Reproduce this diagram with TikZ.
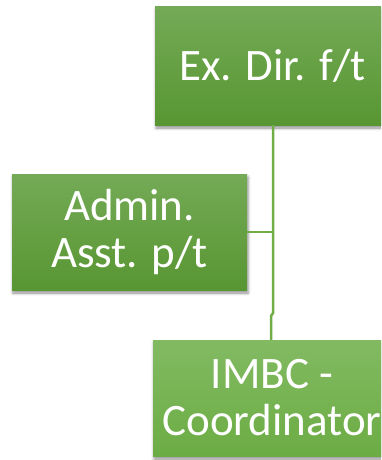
\documentclass[tikz,border=0pt]{standalone}
\usepackage{fontspec}
\setmainfont{Carlito}
\usetikzlibrary{shadows.blur}

\definecolor{linegreen}{RGB}{112,173,71}
\definecolor{darktop}{RGB}{116,170,86}
\definecolor{darkbot}{RGB}{88,150,50}
\definecolor{lighttop}{RGB}{130,186,98}
\definecolor{lightbot}{RGB}{108,172,68}

\tikzset{
  orgbox/.style={
    rectangle, draw=none, text=white, align=center,
    font=\fontsize{45}{47}\selectfont,
    inner sep=0pt,
    blur shadow={shadow xshift=1pt, shadow yshift=-3pt,
                 shadow blur radius=3pt, shadow opacity=45},
  },
  darkbox/.style={orgbox, top color=darktop, bottom color=darkbot},
  lightbox/.style={orgbox, top color=lighttop, bottom color=lightbot},
  link/.style={draw=linegreen, line width=2.5pt},
}

\begin{document}
\begin{tikzpicture}[x=1pt, y=-1pt]
  \useasboundingbox (0,0) rectangle (381,460);
  \clip (0,0) rectangle (381,460);

  % points where the connectors bend and branch
  \coordinate (jog1) at (273,313);
  \coordinate (jog2) at (271,316);
  \coordinate (branch) at (273,232);

  \node[darkbox, minimum width=235pt, minimum height=118pt] (dir) at (272.5,66) {Ex. Dir. f/t};
  \node[darkbox, minimum width=235pt, minimum height=116pt] (admin) at (129.5,232) {Admin.\\Asst. p/t};
  \node[lightbox, minimum width=238pt, minimum height=116pt] (imbc) at (272,398) {IMBC -\\Coordinator};

  \draw[link] (dir.south -| jog1) -- (jog1) -- (jog2) -- (jog2 |- imbc.north);
  \draw[link] (admin.east) -- (branch);
\end{tikzpicture}
\end{document}
